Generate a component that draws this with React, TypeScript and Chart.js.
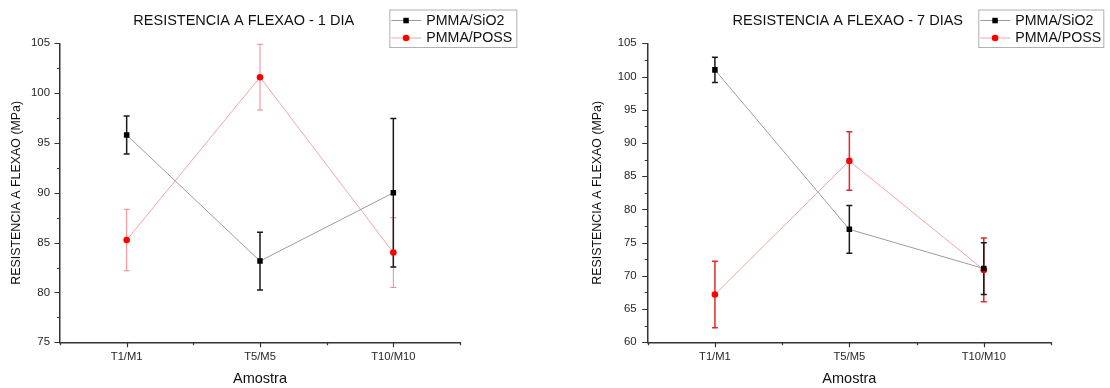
import React, { useEffect, useRef } from "react";
import { Chart, registerables } from "chart.js";

Chart.register(...registerables);
Chart.defaults.font.family = "'Liberation Sans', Arial, sans-serif";

const categories = ["T1/M1", "T5/M5", "T10/M10"];
const seriesNames = ["PMMA/SiO2", "PMMA/POSS"];

const day1Sio2 = [95.8, 83.15, 90.0];
const day1Sio2Err = [1.9, 2.9, 7.45];
const day1Poss = [85.26, 101.6, 84.0];
const day1PossErr = [3.08, 3.3, 3.5];

const day7Sio2 = [101.0, 77.0, 71.1];
const day7Sio2Err = [1.9, 3.6, 3.9];
const day7Poss = [67.2, 87.3, 70.9];
const day7PossErr = [5.0, 4.4, 4.8];

const title1 = "RESISTENCIA A FLEXAO - 1 DIA";
const title7 = "RESISTENCIA A FLEXAO - 7 DIAS";
const yTitle = "RESISTENCIA A FLEXAO (MPa)";
const xTitle = "Amostra";

const FONT = "'Liberation Sans', Arial, sans-serif";
const SIO2_LINE = "#9c9c9c";
const POSS_LINE = "#f4a4a4";
const AXIS = "#333";

type PanelCfg = {
  title: string;
  titleX: number;
  legendX: number;
  legendW: number;
  sio2: number[];
  sio2Err: number[];
  poss: number[];
  possErr: number[];
  yMin: number;
  yMax: number;
  padLeft: number;
  yWidth: number;
  padRight: number;
  yTickPad: number;
  possErrColor: string;
  possErrWidth: number;
};

const pts = (vals: number[]) => vals.map((v, i) => ({ x: i + 1, y: v }));

function Panel({ cfg }: { cfg: PanelCfg }) {
  const ref = useRef<HTMLCanvasElement | null>(null);
  useEffect(() => {
    const errPlugin = {
      id: "errbars",
      beforeDatasetsDraw(chart: any) {
        const { ctx, scales } = chart;
        const x = scales.x;
        const y = scales.y;
        const series = [
          { v: cfg.poss, e: cfg.possErr, color: cfg.possErrColor, w: cfg.possErrWidth },
          { v: cfg.sio2, e: cfg.sio2Err, color: "#1a1a1a", w: 1.5 },
        ];
        series.forEach((s) => {
          ctx.save();
          ctx.strokeStyle = s.color;
          ctx.lineWidth = s.w;
          s.v.forEach((val, i) => {
            const px = x.getPixelForValue(i + 1);
            const top = y.getPixelForValue(val + s.e[i]);
            const bot = y.getPixelForValue(val - s.e[i]);
            const cap = 3;
            ctx.beginPath();
            ctx.moveTo(px, top);
            ctx.lineTo(px, bot);
            ctx.moveTo(px - cap, top);
            ctx.lineTo(px + cap, top);
            ctx.moveTo(px - cap, bot);
            ctx.lineTo(px + cap, bot);
            ctx.stroke();
          });
          ctx.restore();
        });
      },
      afterDraw(chart: any) {
        const { ctx, scales, chartArea } = chart;
        ctx.save();
        // tick marks (major long, minor short)
        ctx.strokeStyle = AXIS;
        ctx.lineWidth = 1.2;
        ctx.beginPath();
        scales.x.ticks.forEach((t: any) => {
          const px = Math.round(scales.x.getPixelForValue(t.value)) + 0.5;
          const len = Number.isInteger(t.value) ? 5 : 3;
          ctx.moveTo(px, chartArea.bottom);
          ctx.lineTo(px, chartArea.bottom + len);
        });
        scales.y.ticks.forEach((t: any) => {
          const py = Math.round(scales.y.getPixelForValue(t.value)) + 0.5;
          const len = t.value % 5 === 0 ? 5.5 : 3;
          ctx.moveTo(chartArea.left, py);
          ctx.lineTo(chartArea.left - len, py);
        });
        ctx.stroke();

        // title
        ctx.fillStyle = "#111";
        ctx.font = `14.5px ${FONT}`;
        ctx.textAlign = "center";
        ctx.textBaseline = "middle";
        ctx.fillText(cfg.title, cfg.titleX, 21);

        // legend box
        const bx = cfg.legendX;
        const by = 9.5;
        const bw = cfg.legendW;
        const bh = 37.5;
        ctx.fillStyle = "#fff";
        ctx.fillRect(bx, by, bw, bh);
        ctx.strokeStyle = "#b0b0b0";
        ctx.lineWidth = 1;
        ctx.strokeRect(bx + 0.5, by + 0.5, bw, bh);
        const rows = [
          { name: seriesNames[0], line: SIO2_LINE, rect: true, fill: "#000" },
          { name: seriesNames[1], line: POSS_LINE, rect: false, fill: "#ff0000" },
        ];
        rows.forEach((r, k) => {
          const ry = by + 10.5 + k * 17.5;
          ctx.strokeStyle = r.line;
          ctx.beginPath();
          ctx.moveTo(bx + 2, ry + 0.5);
          ctx.lineTo(bx + 32, ry + 0.5);
          ctx.stroke();
          ctx.fillStyle = r.fill;
          if (r.rect) {
            ctx.fillRect(bx + 14, ry - 2.2, 5.5, 5.5);
          } else {
            ctx.beginPath();
            ctx.arc(bx + 16.8, ry + 0.5, 3.3, 0, Math.PI * 2);
            ctx.fill();
          }
          ctx.fillStyle = "#111";
          ctx.textAlign = "left";
          ctx.font = `14.2px ${FONT}`;
          ctx.fillText(r.name, bx + 37, ry + 1);
        });
        ctx.restore();
      },
    };

    const gridCfg = {
      drawOnChartArea: false,
      drawTicks: true,
      tickLength: 5,
      tickColor: "rgba(0,0,0,0)",
    };
    const borderCfg = { display: true, color: AXIS, width: 1.5 };

    const chart = new Chart(ref.current as HTMLCanvasElement, {
      type: "line",
      data: {
        datasets: [
          {
            label: seriesNames[0],
            data: pts(cfg.sio2),
            borderColor: SIO2_LINE,
            borderWidth: 1,
            pointStyle: "rect",
            pointRadius: 3.9,
            pointBackgroundColor: "#000",
            pointBorderColor: "#000",
            pointBorderWidth: 0,
            tension: 0,
          },
          {
            label: seriesNames[1],
            data: pts(cfg.poss),
            borderColor: POSS_LINE,
            borderWidth: 1,
            pointStyle: "circle",
            pointRadius: 3.3,
            pointBackgroundColor: "#ff0000",
            pointBorderColor: "#ff0000",
            pointBorderWidth: 0,
            tension: 0,
          },
        ],
      },
      options: {
        responsive: false,
        animation: false,
        devicePixelRatio: 1,
        layout: { padding: { left: cfg.padLeft, right: cfg.padRight, top: 43.3, bottom: 0 } },
        plugins: { legend: { display: false }, tooltip: { enabled: false }, title: { display: false } },
        scales: {
          x: {
            type: "linear",
            min: 0.5,
            max: 3.5,
            ticks: {
              stepSize: 0.5,
              autoSkip: false,
              maxRotation: 0,
              padding: 3,
              color: "#262626",
              font: { size: 11.2 },
              callback: (v: any) => (Number.isInteger(v) ? categories[v - 1] : ""),
            },
            grid: gridCfg,
            border: borderCfg,
            title: {
              display: true,
              text: xTitle,
              color: "#111",
              font: { size: 14.5 },
              padding: { top: 0, bottom: 0 },
            },
            afterFit: (s: any) => {
              s.height = 45.7;
            },
          },
          y: {
            min: cfg.yMin,
            max: cfg.yMax,
            ticks: {
              stepSize: 2.5,
              autoSkip: false,
              padding: cfg.yTickPad,
              color: "#262626",
              font: { size: 11.4 },
              callback: (v: any) => (v % 5 === 0 ? String(v) : ""),
            },
            grid: gridCfg,
            border: borderCfg,
            title: {
              display: true,
              text: yTitle,
              color: "#111",
              font: { size: 12.4 },
            },
            afterFit: (s: any) => {
              s.width = cfg.yWidth;
            },
          },
        },
      },
      plugins: [errPlugin],
    } as any);
    return () => chart.destroy();
  }, []);
  return (
    <canvas
      ref={ref}
      width={555}
      height={388}
      style={{ display: "block", width: 555, height: 388 }}
    />
  );
}

const panel1: PanelCfg = {
  title: title1,
  titleX: 243.7,
  legendX: 389.3,
  legendW: 127,
  sio2: day1Sio2,
  sio2Err: day1Sio2Err,
  poss: day1Poss,
  possErr: day1PossErr,
  yMin: 75,
  yMax: 105,
  padLeft: 5,
  yWidth: 55,
  padRight: 95,
  yTickPad: 5,
  possErrColor: "#f08a8a",
  possErrWidth: 1,
};

const panel7: PanelCfg = {
  title: title7,
  titleX: 292.8,
  legendX: 423.3,
  legendW: 125,
  sio2: day7Sio2,
  sio2Err: day7Sio2Err,
  poss: day7Poss,
  possErr: day7PossErr,
  yMin: 60,
  yMax: 105,
  padLeft: 31.5,
  yWidth: 61.2,
  padRight: 59,
  yTickPad: 6,
  possErrColor: "#e02a2a",
  possErrWidth: 1.5,
};

export default function App() {
  return (
    <div
      style={{
        position: "absolute",
        left: 0,
        top: 0,
        width: 1110,
        height: 388,
        display: "flex",
        background: "#fff",
      }}
    >
      <Panel cfg={panel1} />
      <Panel cfg={panel7} />
    </div>
  );
}
